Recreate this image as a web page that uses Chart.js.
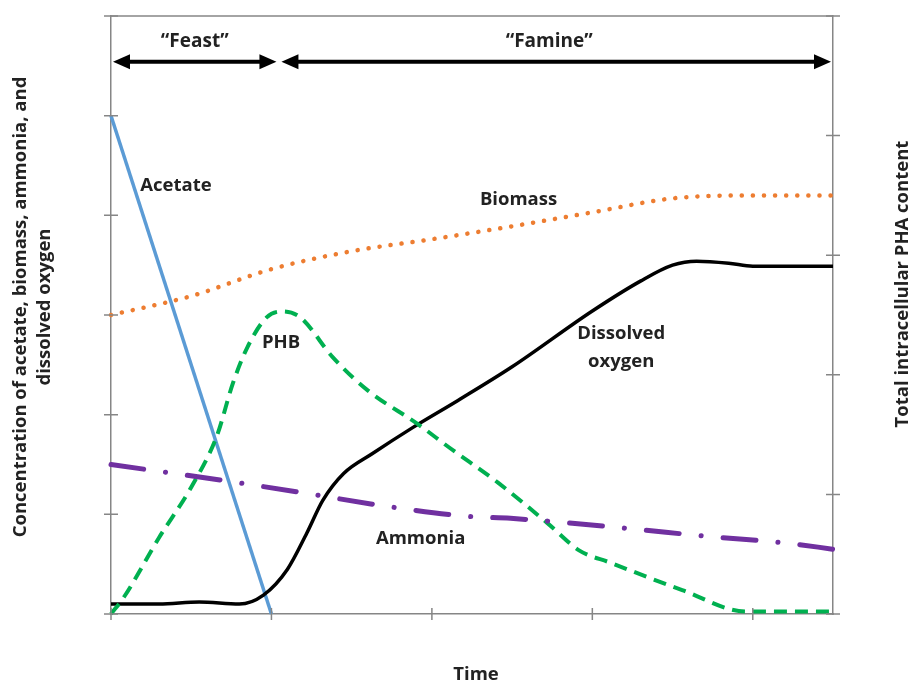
<!DOCTYPE html>
<html>
<head>
<meta charset="utf-8">
<script src="https://cdn.jsdelivr.net/npm/chart.js@4"></script>
<style>
  html, body { margin: 0; padding: 0; background: #fff; }
  #wrap { width: 915px; height: 683px; position: relative; }
</style>
</head>
<body>
<div id="wrap"><canvas id="feastChart"></canvas></div>
<script>
// time axis is arbitrary units, one tick per unit
const xTicks = [0, 1, 2, 3, 4];

const timeAcetate = [0, 1];
const acetate = [5, 0];

const timeBiomass = [0, 0.5, 1, 1.5, 2, 2.5, 3, 3.5, 4, 4.5];
const biomass = [3.0, 3.19, 3.46, 3.64, 3.76, 3.89, 4.03, 4.17, 4.20, 4.20];

const timeOxygen = [0, 0.3, 0.55, 0.8, 0.95, 1.1, 1.22, 1.32, 1.45, 1.63, 1.88, 2.16, 2.5, 3, 3.3, 3.5, 3.65, 3.85, 4, 4.5];
const oxygen = [0.10, 0.10, 0.12, 0.10, 0.19, 0.45, 0.81, 1.14, 1.41, 1.61, 1.87, 2.14, 2.48, 3.04, 3.34, 3.50, 3.54, 3.52, 3.49, 3.49];

// PHB is read against the right-hand axis
const timePhb = [0, 0.08, 0.3, 0.5, 0.66, 0.76, 0.85, 0.97, 1.07, 1.18, 1.38, 1.6, 1.91, 2.11, 2.42, 2.72, 2.92, 3.11, 3.56, 3.96, 4.5];
const phb = [0, 0.14, 0.64, 1.06, 1.49, 1.93, 2.23, 2.48, 2.53, 2.48, 2.15, 1.87, 1.59, 1.39, 1.09, 0.76, 0.53, 0.43, 0.20, 0.02, 0.02];

const timeAmmonia = [0, 0.74, 1.22, 1.72, 2.22, 2.49, 3.21, 3.71, 4.22, 4.5];
const ammonia = [1.50, 1.33, 1.21, 1.08, 0.98, 0.96, 0.86, 0.78, 0.71, 0.65];

const phaseNames = ['\u201CFeast\u201D', '\u201CFamine\u201D'];
const phaseStart = [0, 1];
const phaseEnd = [1, 4.5];

const pts = (xs, ys) => xs.map((x, i) => ({ x: x, y: ys[i] }));

const FONT = '"Open Sans", sans-serif';
const TEXT = '#222222';
const AXIS = '#868686';

// labels sitting next to the curves, in data units of x / left y
const curveLabels = [
  { text: ['Acetate'], x: 0.405, y: 4.30 },
  { text: ['Biomass'], x: 2.54, y: 4.16 },
  { text: ['PHB'], x: 1.06, y: 2.72 },
  { text: ['Dissolved', 'oxygen'], x: 3.18, y: 2.81 },
  { text: ['Ammonia'], x: 1.93, y: 0.76 }
];

function arrowHead(ctx, x, y, dir) {
  ctx.beginPath();
  ctx.moveTo(x, y);
  ctx.lineTo(x - dir * 17, y - 7.5);
  ctx.lineTo(x - dir * 17, y + 7.5);
  ctx.closePath();
  ctx.fill();
}

function vText(ctx, str, x, y) {
  ctx.save();
  ctx.translate(x, y);
  ctx.rotate(-Math.PI / 2);
  ctx.fillText(str, 0, 0);
  ctx.restore();
}

const decor = {
  id: 'decor',
  afterDraw(chart) {
    const { ctx, chartArea: a, scales } = chart;
    const sx = scales.x, sy = scales.y, sy2 = scales.y2;
    ctx.save();

    // top edge of the box
    ctx.strokeStyle = AXIS;
    ctx.lineWidth = 1.5;
    ctx.beginPath();
    ctx.moveTo(a.left, a.top);
    ctx.lineTo(a.right, a.top);
    ctx.stroke();

    // ticks that cross the axis lines
    ctx.beginPath();
    sy.ticks.forEach(t => {
      const p = sy.getPixelForValue(t.value);
      ctx.moveTo(a.left - 7, p); ctx.lineTo(a.left + 7, p);
    });
    sy2.ticks.forEach(t => {
      const p = sy2.getPixelForValue(t.value);
      ctx.moveTo(a.right - 7, p); ctx.lineTo(a.right + 7, p);
    });
    sx.ticks.forEach(t => {
      const p = sx.getPixelForValue(t.value);
      ctx.moveTo(p, a.bottom - 6); ctx.lineTo(p, a.bottom + 6);
    });
    ctx.stroke();

    // feast / famine arrows
    const ay = sy.getPixelForValue(5.54);
    ctx.strokeStyle = '#000';
    ctx.lineWidth = 4;
    ctx.textAlign = 'center';
    ctx.textBaseline = 'middle';
    phaseNames.forEach((name, i) => {
      const x0 = sx.getPixelForValue(phaseStart[i]) + (i === 0 ? 2 : 10);
      const x1 = sx.getPixelForValue(phaseEnd[i]) + (i === 0 ? 5 : -2);
      ctx.fillStyle = '#000';
      ctx.beginPath();
      ctx.moveTo(x0 + 10, ay);
      ctx.lineTo(x1 - 10, ay);
      ctx.stroke();
      arrowHead(ctx, x0, ay, -1);
      arrowHead(ctx, x1, ay, 1);
      ctx.font = 'bold 19px ' + FONT;
      ctx.fillStyle = TEXT;
      ctx.fillText(name, (x0 + x1) / 2 + (i === 0 ? 0 : -7), ay - 20);
    });

    // curve labels
    ctx.font = 'bold 18.5px ' + FONT;
    ctx.fillStyle = TEXT;
    curveLabels.forEach(l => {
      const px = sx.getPixelForValue(l.x);
      const py = sy.getPixelForValue(l.y);
      l.text.forEach((t, k) => ctx.fillText(t, px, py + k * 28));
    });

    // axis titles
    ctx.fillText('Time', (a.left + a.right) / 2 + 4, a.bottom + 61);
    vText(ctx, 'Concentration of acetate, biomass, ammonia, and', 21, a.top + 291);
    vText(ctx, 'dissolved oxygen', 45, a.top + 291);
    vText(ctx, 'Total intracellular PHA content', 903, a.top + 268);

    ctx.restore();
  }
};

const noSize = s => { if (s.isHorizontal()) s.height = 0; else s.width = 0; };

new Chart(document.getElementById('feastChart'), {
  type: 'line',
  data: {
    datasets: [
      {
        label: 'Biomass',
        data: pts(timeBiomass, biomass),
        borderColor: '#ed7d31',
        borderWidth: 4.5,
        borderDash: [0.1, 11],
        borderCapStyle: 'round',
        cubicInterpolationMode: 'monotone',
        yAxisID: 'y'
      },
      {
        label: 'Ammonia',
        data: pts(timeAmmonia, ammonia),
        borderColor: '#7030a0',
        borderWidth: 5,
        borderDash: [33, 22, 0.1, 22],
        borderCapStyle: 'round',
        cubicInterpolationMode: 'monotone',
        yAxisID: 'y'
      },
      {
        label: 'PHB',
        data: pts(timePhb, phb),
        borderColor: '#00b050',
        borderWidth: 4,
        borderDash: [13, 8],
        cubicInterpolationMode: 'monotone',
        yAxisID: 'y2'
      },
      {
        label: 'Dissolved oxygen',
        data: pts(timeOxygen, oxygen),
        borderColor: '#000000',
        borderWidth: 3.5,
        cubicInterpolationMode: 'monotone',
        yAxisID: 'y'
      },
      {
        label: 'Acetate',
        data: pts(timeAcetate, acetate),
        borderColor: '#5b9bd5',
        borderWidth: 3.5,
        yAxisID: 'y'
      }
    ]
  },
  options: {
    responsive: true,
    maintainAspectRatio: false,
    animation: false,
    events: [],
    clip: false,
    layout: { padding: { left: 111, right: 82, top: 16, bottom: 69 } },
    elements: { point: { radius: 0 } },
    plugins: { legend: { display: false }, tooltip: { enabled: false } },
    scales: {
      x: {
        type: 'linear',
        min: 0,
        max: 4.5,
        afterBuildTicks: s => { s.ticks = xTicks.map(v => ({ value: v })); },
        afterFit: noSize,
        ticks: { display: false },
        grid: { display: false, drawTicks: false },
        border: { display: true, color: AXIS, width: 1.5 }
      },
      y: {
        min: 0,
        max: 6,
        ticks: { display: false, stepSize: 1 },
        afterFit: noSize,
        grid: { display: false, drawTicks: false },
        border: { display: true, color: AXIS, width: 1.5 }
      },
      y2: {
        position: 'right',
        min: 0,
        max: 5,
        ticks: { display: false, stepSize: 1 },
        afterFit: noSize,
        grid: { display: false, drawTicks: false },
        border: { display: true, color: AXIS, width: 1.5 }
      }
    }
  },
  plugins: [decor]
});
</script>
</body>
</html>
